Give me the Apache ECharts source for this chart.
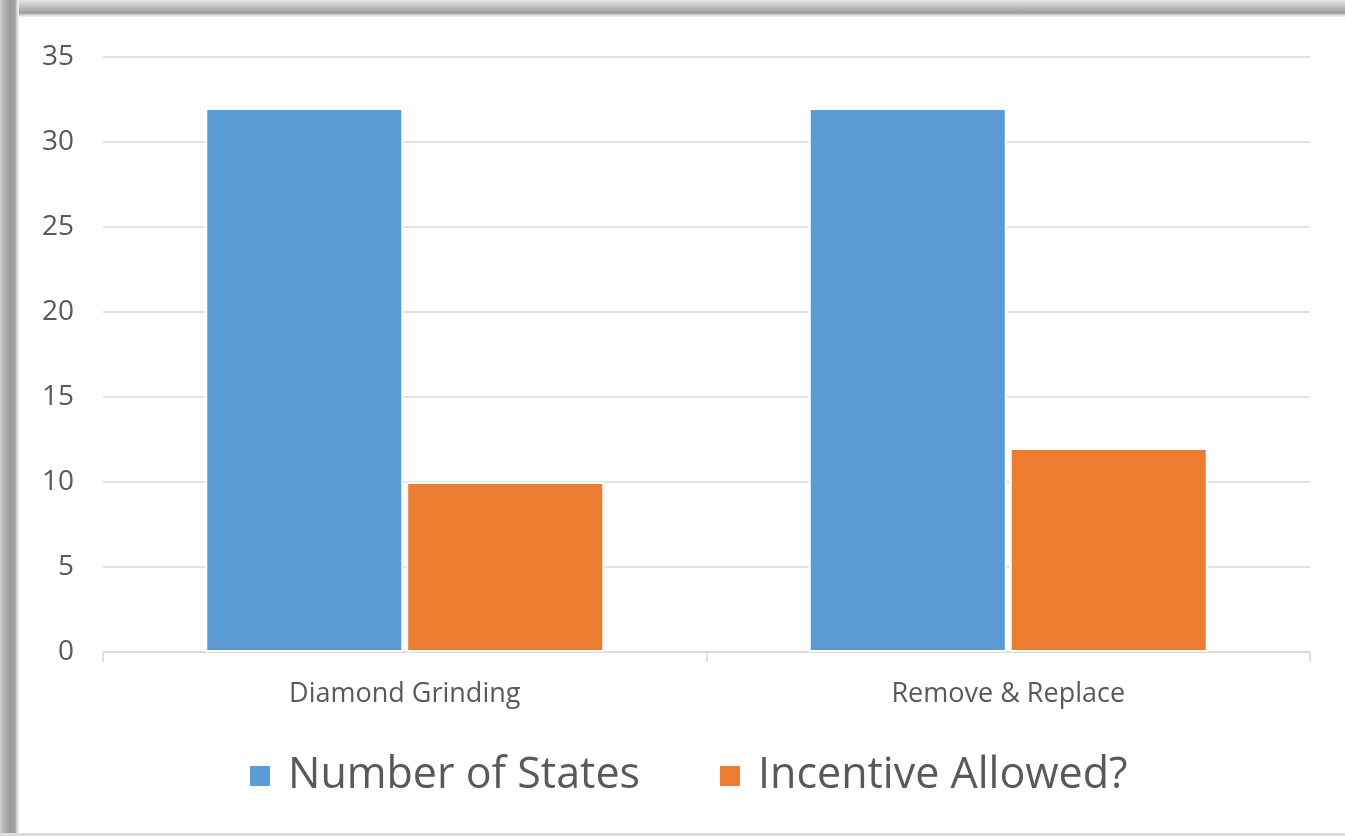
<!DOCTYPE html>
<html>
<head>
<meta charset="utf-8">
<script src="https://cdn.jsdelivr.net/npm/echarts@6/dist/echarts.min.js"></script>
<style>
  html, body { margin: 0; padding: 0; background: #fff; }
  #wrap { position: relative; width: 1345px; height: 836px; overflow: hidden; background: #fff; }
  #chart { position: absolute; left: 0; top: 0; width: 1345px; height: 836px; }
  /* window-style frame drawn around the chart area */
  .edge-top { position: absolute; left: 0; top: 0; width: 1345px; height: 17px;
    background: linear-gradient(to bottom, #e6e6e6 0px, #c4c4c4 6px, #9c9c9c 13px, #d8d8d8 15px, #f2f2f2 17px); }
  .edge-left { position: absolute; left: 0; top: 0; width: 19px; height: 836px;
    background: linear-gradient(to right, #d0d0d0 0px, #b4b4b4 4px, #9a9a9a 10px, #a0a0a0 15px, #dadada 17px, #f2f2f2 19px); }
  .edge-bottom { position: absolute; left: 0; top: 833px; width: 1345px; height: 3px; background: #dcdcdc; }
</style>
</head>
<body>
<div id="wrap">
  <div id="chart"></div>
  <div class="edge-top"></div>
  <div class="edge-left"></div>
  <div class="edge-bottom"></div>
</div>
<script>
// Categories and series values
const categories = ['Diamond Grinding', 'Remove & Replace'];
const numberOfStates = [32, 32];
const incentiveAllowed = [10, 12];
const yTicks = { min: 0, max: 35, interval: 5 };

const FONT = '"Open Sans", "Noto Sans", sans-serif';
const chart = echarts.init(document.getElementById('chart'), null, { renderer: 'canvas' });

chart.setOption({
  animation: false,
  backgroundColor: 'transparent',
  grid: { left: 103, right: 35, top: 57, bottom: 184, containLabel: false },
  legend: {
    top: 749,
    left: 243,
    itemWidth: 22,
    itemHeight: 22,
    itemGap: 78,
    icon: 'rect',
    textStyle: { fontFamily: FONT, fontSize: 43, lineHeight: 44, color: '#595959', padding: [0, 0, 0, 12] },
    data: ['Number of States', 'Incentive Allowed?']
  },
  xAxis: {
    type: 'category',
    data: categories,
    axisLine: { show: true, lineStyle: { color: '#d9d9d9', width: 1.5 } },
    axisTick: { show: true, length: 10, alignWithLabel: false, lineStyle: { color: '#d9d9d9', width: 1.5 } },
    axisLabel: { fontFamily: FONT, fontSize: 27, color: '#595959', margin: 29 }
  },
  yAxis: {
    type: 'value',
    min: yTicks.min,
    max: yTicks.max,
    interval: yTicks.interval,
    axisLine: { show: false },
    axisTick: { show: false },
    axisLabel: { fontFamily: FONT, fontSize: 28, color: '#595959', margin: 29 },
    splitLine: { lineStyle: { color: '#d9d9d9', width: 1.5 } }
  },
  series: [
    {
      name: 'Number of States',
      type: 'bar',
      data: numberOfStates,
      barWidth: 198,
      barGap: '1.5%',
      itemStyle: { color: '#5b9bd5', borderColor: '#ffffff', borderWidth: 2 }
    },
    {
      name: 'Incentive Allowed?',
      type: 'bar',
      data: incentiveAllowed,
      barWidth: 198,
      itemStyle: { color: '#ed7d31', borderColor: '#ffffff', borderWidth: 2 }
    }
  ]
});
</script>
</body>
</html>
